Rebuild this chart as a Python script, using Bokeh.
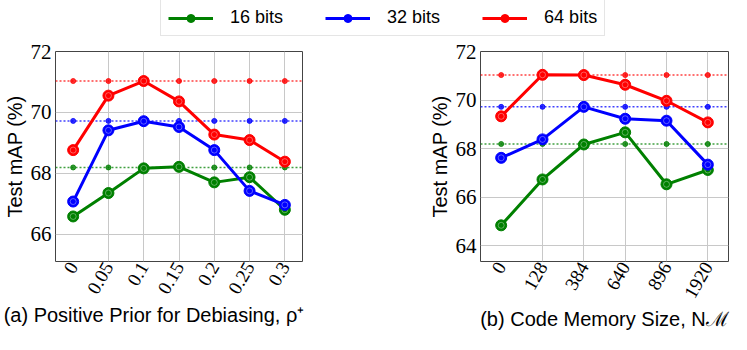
import math
from bokeh.plotting import figure
from bokeh.models import (FactorRange, Range1d, FixedTicker, Span,
                          Legend, LegendItem)
from bokeh.layouts import column, row
from bokeh.embed import file_html
from bokeh.resources import INLINE

# ---------------- data ----------------
cats_a = ["0", "0.05", "0.1", "0.15", "0.2", "0.25", "0.3"]
a16 = [66.58, 67.35, 68.16, 68.21, 67.70, 67.87, 66.80]
a32 = [67.07, 69.41, 69.71, 69.52, 68.76, 67.42, 66.96]
a64 = [68.76, 70.55, 71.03, 70.36, 69.27, 69.09, 68.38]

cats_b = ["0", "128", "384", "640", "896", "1920"]
b16 = [64.84, 66.73, 68.17, 68.67, 66.53, 67.12]
b32 = [67.62, 68.38, 69.72, 69.23, 69.15, 67.34]
b64 = [69.33, 71.04, 71.03, 70.63, 69.97, 69.08]

baseline = [68.19, 69.72, 71.03]          # dotted reference levels (16/32/64 bits)
series_names = ["16 bits", "32 bits", "64 bits"]
colors = ["#008000", "#0000ff", "#ff0000"]

yticks_a = [66, 68, 70, 72]
yticks_b = [64, 66, 68, 70, 72]
ylim_a = (65.1, 72.0)
ylim_b = (63.35, 72.0)

caption_a = "(a) Positive Prior for Debiasing, ρ⁺" + "\u00a0" * 9
caption_b = "(b) Code Memory Size, Nℳ"

SANS = "Liberation Sans"
SERIF = "Liberation Serif"

W = 731


def panel(cats, series, ylim, yticks, caption, width, height,
          mb_left, mb_right, mb_top, mb_bottom):
    p = figure(width=width, height=height, x_range=FactorRange(*cats),
               y_range=Range1d(*ylim), output_backend="svg", title=None,
               toolbar_location=None, min_border_left=mb_left,
               min_border_right=mb_right, min_border_top=mb_top,
               min_border_bottom=mb_bottom)
    p.background_fill_color = "white"
    p.outline_line_color = "#444444"
    p.outline_line_width = 1
    p.grid.grid_line_color = "#c8c8c8"
    p.grid.grid_line_width = 1

    p.yaxis.ticker = FixedTicker(ticks=yticks)
    for ax in (p.xaxis[0], p.yaxis[0]):
        ax.axis_line_color = None
        ax.major_tick_out = 0
        ax.major_tick_in = 0
        ax.minor_tick_out = 0
        ax.minor_tick_in = 0
        ax.major_label_text_font = SERIF
        ax.major_label_text_color = "black"
        ax.axis_label_text_font = SANS
        ax.axis_label_text_font_style = "normal"
        ax.axis_label_text_font_size = "20px"
        ax.axis_label_text_color = "black"
        ax.axis_label_standoff = 2
    p.yaxis.major_label_text_font_size = "21px"
    p.yaxis.major_label_standoff = 4
    p.yaxis.axis_label = "Test mAP (%)"

    p.xaxis.major_label_text_font_size = "19px"
    p.xaxis.major_label_orientation = math.pi / 3
    p.xaxis.major_label_standoff = 2
    p.xaxis.axis_label = caption

    # dotted reference levels
    for lvl, c in zip(baseline, colors):
        sp = Span(location=lvl, dimension="width", line_color=c,
                  line_dash="2 2", line_width=1.5, line_alpha=0.75,
                  level="underlay")
        p.add_layout(sp)
        p.scatter(cats, [lvl] * len(cats), size=5, color=c, alpha=0.8)

    for vals, c in zip(series, colors):
        p.line(cats, vals, line_color=c, line_width=3)
        p.scatter(cats, vals, size=11, fill_color=c, line_color=c)
        p.scatter(cats, vals, size=6, fill_color=None, line_color="white",
                  line_alpha=0.35, line_width=1)
    return p


LH = 36
PH = 334 - LH
pa = panel(cats_a, [a16, a32, a64], ylim_a, yticks_a, caption_a,
           width=392, height=PH, mb_left=51, mb_right=90, mb_top=15, mb_bottom=71)
pb = panel(cats_b, [b16, b32, b64], ylim_b, yticks_b, caption_b,
           width=W - 392, height=PH, mb_left=88, mb_right=3, mb_top=15, mb_bottom=73)

# ---------------- legend strip ----------------
pl = figure(width=W, height=LH, x_range=FactorRange(*cats_a), y_range=Range1d(0, 1),
            output_backend="svg", toolbar_location=None, title=None,
            x_axis_location=None, y_axis_location=None, min_border=0)
pl.grid.visible = False
pl.outline_line_color = None
items = []
for name, vals, c in zip(series_names, [a16, a32, a64], colors):
    # same series, outside this strip's visible range: only the legend glyph shows
    lr = pl.line(cats_a, vals, line_color=c, line_width=3)
    sr = pl.scatter(cats_a, vals, size=6, fill_color=c, line_color=c)
    items.append(LegendItem(label=name, renderers=[lr, sr]))
leg = Legend(items=items, orientation="horizontal", location=(160, 0),
             glyph_width=45, glyph_height=20, label_standoff=17, spacing=42,
             padding=7, margin=0, border_line_color="#cccccc",
             border_line_width=1, label_text_font=SANS,
             label_text_font_size="18px", label_text_color="black",
             background_fill_alpha=1.0)
pl.add_layout(leg, "center")

layout = column(pl, row(pa, pb, spacing=0), spacing=0)

with open("out.html", "w") as f:
    f.write(file_html(layout, INLINE))
